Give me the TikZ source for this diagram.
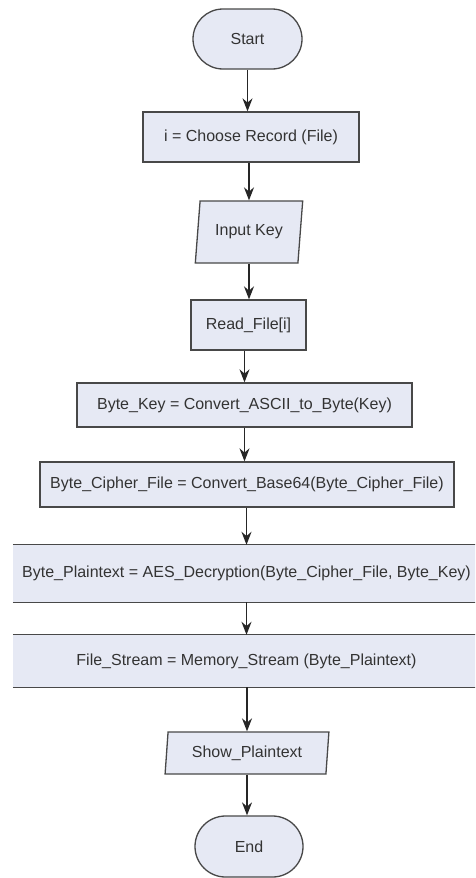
\documentclass[tikz,border=0pt]{standalone}
\usepackage{fontspec}
\setmainfont{Liberation Sans}
\usetikzlibrary{shapes.geometric,shapes.misc,arrows.meta}

\definecolor{boxfill}{RGB}{230,233,244}
\definecolor{boxline}{RGB}{72,72,72}

\tikzset{
  x=1pt, y=-1pt,
  every node/.style={font=\fontsize{16}{18}\selectfont, text=black!80, inner sep=0pt},
  terminal/.style={rounded rectangle, draw=boxline, fill=boxfill, line width=1.3pt},
  process/.style={rectangle, draw=boxline, fill=boxfill, line width=1.3pt},
  wideproc/.style={rectangle, fill=boxfill},
  iobox/.style={trapezium, trapezium stretches=true, draw=boxline, fill=boxfill, line width=1.3pt},
  flow/.style={-{Stealth[length=13pt,width=10pt]}, line width=1.4pt, draw=black!85},
  edge/.style={line width=1.3pt, draw=boxline}
}

\begin{document}
\begin{tikzpicture}
\clip (0,0) rectangle (475,878);
\useasboundingbox (0,0) rectangle (475,878);

% terminals, processes and input/output steps
\node[terminal, minimum width=109pt, minimum height=60pt] (start) at (247.5,39) {Start};
\node[process, minimum width=216pt, minimum height=50pt] (choose) at (251,137) {i = Choose Record (File)};
\node[iobox, trapezium left angle=77, trapezium right angle=103,
      minimum width=108pt, minimum height=62pt] (input) at (249,232) {Input Key};
\node[process, minimum width=115pt, minimum height=50pt] (read) at (248.5,325) {Read\_File[i]};
\node[process, minimum width=335pt, minimum height=44pt] (bkey) at (244.5,405) {Byte\_Key = Convert\_ASCII\_to\_Byte(Key)};
\node[process, minimum width=414pt, minimum height=45pt] (cipher) at (247,484.5) {Byte\_Cipher\_File = Convert\_Base64(Byte\_Cipher\_File)};
\node[wideproc, minimum width=467pt, minimum height=57pt] (plain) at (246.5,573.5) {Byte\_Plaintext = AES\_Decryption(Byte\_Cipher\_File, Byte\_Key)};
\node[wideproc, minimum width=467pt, minimum height=52pt] (fstream) at (246.5,661) {File\_Stream = Memory\_Stream (Byte\_Plaintext)};
\node[iobox, trapezium left angle=82, trapezium right angle=98,
      minimum width=164pt, minimum height=42pt] (show) at (247,753) {Show\_Plaintext};
\node[terminal, minimum width=108pt, minimum height=61pt] (stop) at (249,846.5) {End};

% borders of the two full-width steps
\draw[edge] (plain.north west) -- (plain.north east);
\draw[edge] (plain.south west) -- (plain.south east);
\draw[edge] (fstream.north west) -- (fstream.north east);
\draw[edge] (fstream.south west) -- (fstream.south east);

% connectors
\draw[flow] (start.south) -- (start.south |- choose.north);
\draw[flow] (choose.south -| input.north) -- (input.north);
\draw[flow] (input.south) -- (input.south |- read.north);
\draw[flow] (read.south -| bkey.north) -- (bkey.north);
\draw[flow] (bkey.south) -- (bkey.south |- cipher.north);
\draw[flow] (cipher.south -| plain.north) -- (plain.north);
\draw[flow] (plain.south -| fstream.north) -- (fstream.north);
\draw[flow] (fstream.south -| show.north) -- (show.north);
\draw[flow] (show.south) -- (show.south |- stop.north);
\end{tikzpicture}
\end{document}
